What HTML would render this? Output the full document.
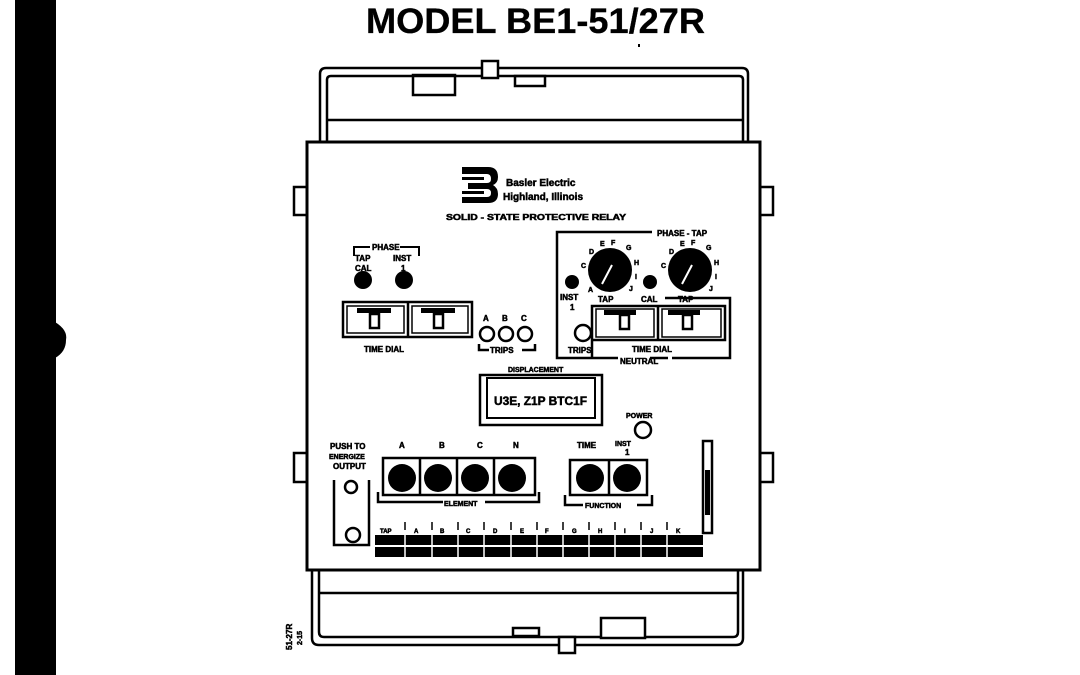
<!DOCTYPE html>
<html><head><meta charset="utf-8"><style>
html,body{margin:0;padding:0;background:#fff;}
svg{display:block;}
text{font-family:"Liberation Sans",sans-serif;font-weight:bold;fill:#000;stroke:#000;stroke-width:0.5;}
text.t{stroke-width:0.3;}
</style></head><body>
<svg width="1080" height="675" viewBox="0 0 1080 675" xmlns="http://www.w3.org/2000/svg">
<rect width="1080" height="675" fill="#fff"/>
<rect x="15" y="0" width="41" height="675" fill="#000"/>
<path d="M55 322 Q68 330 66 340 Q66 352 55 358 Z" fill="#000"/>
<text class="t" x="366" y="33" font-size="35" textLength="339" lengthAdjust="spacingAndGlyphs">MODEL BE1-51/27R</text>
<rect x="638" y="44" width="2" height="3" fill="#000"/>

<g fill="none" stroke="#000" stroke-width="2.5">
<path d="M320 142 V74 Q320 68 326 68 H742 Q748 68 748 74 V142"/>
<path d="M327 142 V80 Q327 76 331 76 H739 Q743 76 743 80 V142"/>
<line x1="327" y1="120" x2="743" y2="120"/>
<rect x="413" y="75" width="42" height="20"/>
<rect x="515" y="76" width="30" height="10"/>
<rect x="482" y="61" width="16" height="17" fill="#fff"/>
<rect x="307" y="142" width="453" height="428" stroke-width="3"/>
<rect x="294" y="187" width="13" height="28"/>
<rect x="760" y="187" width="13" height="28"/>
<rect x="294" y="453" width="13" height="29"/>
<rect x="760" y="453" width="13" height="29"/>
<path d="M312 570 V638 Q312 645 319 645 H736 Q743 645 743 638 V570"/>
<path d="M319 570 V632 Q319 637 324 637 H733 Q738 637 738 632 V570"/>
<line x1="319" y1="593" x2="738" y2="593"/>
<rect x="601" y="618" width="44" height="20" fill="#fff"/>
<rect x="513" y="628" width="26" height="8"/>
<rect x="559" y="637" width="16" height="16" fill="#fff"/>
</g>

<g fill="#000">
<path d="M462 167 H488 Q498 167 498 177 Q498 183 493 185 Q498 188 498 194 Q498 203 488 203 H462 V197 H487 Q491 197 491 193 Q491 189 487 189 H468 V183 H487 Q491 183 491 179 Q491 174 487 174 H462 Z"/>
<rect x="462" y="177" width="22" height="3"/>
<rect x="462" y="191" width="22" height="3"/>
</g>
<text x="506" y="186" font-size="10">Basler Electric</text>
<text x="503" y="200" font-size="10">Highland, Illinois</text>
<text x="446" y="220" font-size="8" textLength="180" lengthAdjust="spacingAndGlyphs">SOLID - STATE PROTECTIVE RELAY</text>

<g fill="none" stroke="#000" stroke-width="2">
<path d="M354 256 V247 H370 M400 247 H419 V256"/>
</g>
<text x="372" y="250" font-size="8">PHASE</text>
<text x="355" y="261" font-size="8">TAP</text>
<text x="355" y="271" font-size="8">CAL</text>
<text x="393" y="261" font-size="8">INST</text>
<text x="401" y="271" font-size="8">1</text>
<circle cx="363" cy="280" r="9" fill="#000"/>
<circle cx="404" cy="280" r="9" fill="#000"/>
<g fill="none" stroke="#000" stroke-width="2.5">
<rect x="343" y="302" width="129" height="35"/>
<line x1="408" y1="302" x2="408" y2="337"/>
<rect x="347" y="306" width="57" height="27" stroke-width="1.5"/>
<rect x="412" y="306" width="56" height="27" stroke-width="1.5"/>
<rect x="370" y="314" width="9" height="14"/>
<rect x="434" y="314" width="9" height="14"/>
</g>
<rect x="357" y="308" width="34" height="5" fill="#000"/>
<rect x="421" y="308" width="34" height="5" fill="#000"/>
<text x="364" y="352" font-size="8">TIME DIAL</text>
<text x="483" y="321" font-size="8">A</text><text x="502" y="321" font-size="8">B</text><text x="521" y="321" font-size="8">C</text>
<g fill="none" stroke="#000" stroke-width="2.5">
<circle cx="487" cy="334" r="7"/><circle cx="506" cy="334" r="7"/><circle cx="525" cy="334" r="7"/>
<path d="M479 344 V350 H489 M522 350 H535 V344"/>
</g>
<text x="490" y="353" font-size="8">TRIPS</text>

<g fill="none" stroke="#000" stroke-width="2.5">
<path d="M652 232 H557 V358 H618 M668 358 H650"/>
<path d="M665 298 H730 V358 H672"/>
<path d="M592 358 V306 H725 V340 H592"/>
<line x1="658" y1="306" x2="658" y2="340"/>
<rect x="596" y="309" width="58" height="28" stroke-width="1.5"/>
<rect x="662" y="309" width="59" height="28" stroke-width="1.5"/>
<rect x="620" y="315" width="9" height="14"/>
<rect x="683" y="315" width="9" height="14"/>
<circle cx="583" cy="333" r="8"/>
</g>
<rect x="604" y="310" width="32" height="5" fill="#000"/>
<rect x="668" y="310" width="32" height="5" fill="#000"/>
<text x="568" y="353" font-size="8">TRIPS</text>
<text x="632" y="352" font-size="8">TIME DIAL</text>
<text x="620" y="364" font-size="8">NEUTRAL</text>
<text x="657" y="236" font-size="8">PHASE - TAP</text>
<circle cx="610" cy="270" r="22" fill="#000"/>
<circle cx="690" cy="270" r="22" fill="#000"/>
<line x1="602" y1="284" x2="612" y2="265" stroke="#fff" stroke-width="2"/>
<line x1="682" y1="284" x2="692" y2="265" stroke="#fff" stroke-width="2"/>
<circle cx="572" cy="282" r="7" fill="#000"/>
<circle cx="650" cy="282" r="7" fill="#000"/>
<g font-size="7">
<text x="589" y="254">D</text><text x="600" y="246">E</text><text x="611" y="245">F</text><text x="626" y="250">G</text><text x="634" y="265">H</text><text x="635" y="279">I</text><text x="629" y="291">J</text><text x="581" y="268">C</text><text x="588" y="292">A</text>
<text x="669" y="254">D</text><text x="680" y="246">E</text><text x="691" y="245">F</text><text x="706" y="250">G</text><text x="714" y="265">H</text><text x="715" y="279">I</text><text x="709" y="291">J</text><text x="661" y="268">C</text>
</g>
<text x="560" y="300" font-size="8">INST</text>
<text x="570" y="310" font-size="8">1</text>
<text x="598" y="302" font-size="8">TAP</text>
<text x="641" y="302" font-size="8">CAL</text>
<text x="678" y="302" font-size="8">TAP</text>

<text x="508" y="372" font-size="7">DISPLACEMENT</text>
<g fill="none" stroke="#000" stroke-width="2.5">
<rect x="480" y="375" width="122" height="50"/>
<rect x="487" y="378" width="108" height="40" stroke-width="2"/>
</g>
<text x="494" y="405" font-size="12" textLength="93" lengthAdjust="spacingAndGlyphs">U3E, Z1P BTC1F</text>

<text x="626" y="418" font-size="7">POWER</text>
<circle cx="643" cy="430" r="8" fill="none" stroke="#000" stroke-width="2.5"/>

<text x="399" y="448" font-size="8">A</text><text x="439" y="448" font-size="8">B</text><text x="477" y="448" font-size="8">C</text><text x="513" y="448" font-size="8">N</text>
<g fill="none" stroke="#000" stroke-width="2.5">
<rect x="383" y="458" width="152" height="37"/>
<line x1="420" y1="458" x2="420" y2="495"/><line x1="457" y1="458" x2="457" y2="495"/><line x1="494" y1="458" x2="494" y2="495"/>
<path d="M378 492 V502 H443 M485 502 H539 V492"/>
<rect x="570" y="460" width="77" height="35"/>
<line x1="609" y1="460" x2="609" y2="495"/>
<path d="M565 495 V505 H583 M637 505 H652 V495"/>
</g>
<g fill="#000">
<circle cx="402" cy="478" r="14"/><circle cx="438" cy="478" r="14"/><circle cx="475" cy="478" r="14"/><circle cx="512" cy="478" r="14"/>
<circle cx="590" cy="478" r="14"/><circle cx="627" cy="478" r="14"/>
</g>
<text x="444" y="506" font-size="7">ELEMENT</text>
<text x="585" y="508" font-size="7">FUNCTION</text>
<text x="577" y="448" font-size="8">TIME</text>
<text x="615" y="446" font-size="7">INST</text>
<text x="625" y="455" font-size="8">1</text>

<text x="330" y="449" font-size="8">PUSH TO</text>
<text x="329" y="459" font-size="7">ENERGIZE</text>
<text x="333" y="469" font-size="8">OUTPUT</text>
<g fill="none" stroke="#000" stroke-width="2.5">
<path d="M334 480 V545 H369 V480"/>
<circle cx="351" cy="487" r="6"/>
<circle cx="353" cy="535" r="7"/>
<rect x="703" y="441" width="9" height="92"/>
</g>
<rect x="705" y="470" width="5" height="45" fill="#000"/>

<g font-size="6">
<text x="380" y="533">TAP</text><text x="414" y="533">A</text><text x="440" y="533">B</text><text x="466" y="533">C</text><text x="493" y="533">D</text><text x="520" y="533">E</text><text x="545" y="533">F</text><text x="572" y="533">G</text><text x="598" y="533">H</text><text x="624" y="533">I</text><text x="650" y="533">J</text><text x="676" y="533">K</text>
</g>
<rect x="375" y="535" width="328" height="10" fill="#000"/>
<rect x="375" y="547" width="328" height="10" fill="#000"/>
<g stroke="#fff" stroke-width="1.5">
<line x1="405" y1="535" x2="405" y2="557"/><line x1="432" y1="535" x2="432" y2="557"/><line x1="458" y1="535" x2="458" y2="557"/><line x1="484" y1="535" x2="484" y2="557"/><line x1="511" y1="535" x2="511" y2="557"/><line x1="537" y1="535" x2="537" y2="557"/><line x1="563" y1="535" x2="563" y2="557"/><line x1="589" y1="535" x2="589" y2="557"/><line x1="615" y1="535" x2="615" y2="557"/><line x1="641" y1="535" x2="641" y2="557"/><line x1="667" y1="535" x2="667" y2="557"/>
</g>
<g stroke="#000" stroke-width="1.5">
<line x1="405" y1="522" x2="405" y2="530"/><line x1="432" y1="522" x2="432" y2="530"/><line x1="458" y1="522" x2="458" y2="530"/><line x1="484" y1="522" x2="484" y2="530"/><line x1="511" y1="522" x2="511" y2="530"/><line x1="537" y1="522" x2="537" y2="530"/><line x1="563" y1="522" x2="563" y2="530"/><line x1="589" y1="522" x2="589" y2="530"/><line x1="615" y1="522" x2="615" y2="530"/><line x1="641" y1="522" x2="641" y2="530"/><line x1="667" y1="522" x2="667" y2="530"/>
</g>
<text transform="translate(292,650) rotate(-90)" font-size="8">51-27R</text>
<text transform="translate(302,645) rotate(-90)" font-size="7">2-15</text>
</svg>
</body></html>
